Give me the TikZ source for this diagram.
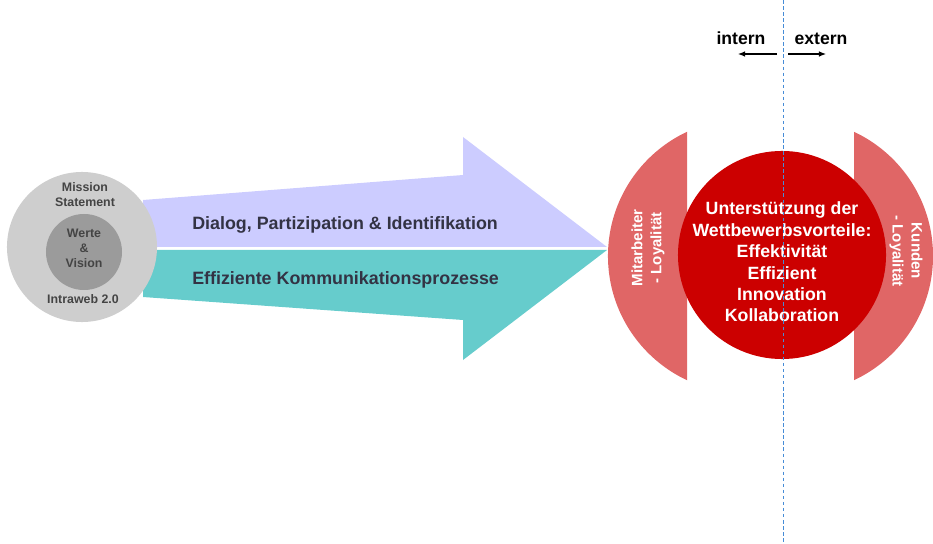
\documentclass[tikz,border=0pt]{standalone}
\usepackage{fontspec}
\setmainfont{Liberation Sans}
\usepackage{xcolor}
\usetikzlibrary{arrows.meta}

\definecolor{lavender}{RGB}{204,204,255}
\definecolor{arrowteal}{RGB}{102,204,204}
\definecolor{outergray}{RGB}{206,206,206}
\definecolor{innergray}{RGB}{155,155,155}
\definecolor{crescentred}{RGB}{224,102,102}
\definecolor{corered}{RGB}{204,0,0}
\definecolor{dashblue}{RGB}{70,140,215}
\definecolor{textdark}{RGB}{51,51,68}
\definecolor{graytext}{RGB}{68,68,68}

\begin{document}
\begin{tikzpicture}[x=0.025cm, y=-0.025cm,
  graylabel/.style={font=\fontsize{8.8}{11}\selectfont\bfseries, text=graytext, align=center, inner sep=0},
  arrowlabel/.style={font=\fontsize{12.7}{15}\selectfont\bfseries, text=textdark, anchor=base west, inner sep=0},
  whitelabel/.style={font=\fontsize{12.6}{15.2}\selectfont\bfseries, text=white, align=center, inner sep=0},
  sidelabel/.style={font=\fontsize{10.7}{13.5}\selectfont\bfseries, text=white, align=center, inner sep=0},
  sidearrow/.style={-{Latex[length=5pt,width=4pt]}, line width=0.8pt}]
  \useasboundingbox (0,0) rectangle (933,544);

  % big arrow
  \fill[lavender] (143,200) -- (463,175) -- (463,137) -- (607,247) -- (143,247) -- cycle;
  \fill[arrowteal] (143,250) -- (607,250) -- (463,360) -- (463,320) -- (143,297) -- cycle;
  \node[arrowlabel] (dialog) at (192,230) {Dialog, Partizipation \& Identifikation};
  \node[arrowlabel] (effizienz) at (192,284) {Effiziente Kommunikationsprozesse};

  % left circles
  \node[circle, fill=outergray, minimum size=3.75cm, inner sep=0] (mission) at (82,247) {};
  \node[circle, fill=innergray, minimum size=1.9cm, inner sep=0] (werte) at (84,252) {};
  \node[graylabel, anchor=base] (missiontxt) at (85,207) {Mission\\Statement};
  \node[graylabel, anchor=base] (wertetxt) at (84,268) {Werte\\\&\\Vision};
  \node[graylabel, anchor=base] (intraweb) at (83,303) {Intraweb 2.0};

  % crescents
  \begin{scope}
    \clip (600,120) rectangle (687,400);
    \fill[crescentred] (745,256) circle[radius=3.425cm];
  \end{scope}
  \begin{scope}
    \clip (854,120) rectangle (933,400);
    \fill[crescentred] (796,256) circle[radius=3.425cm];
  \end{scope}
  \node[sidelabel, rotate=90] (mitarbeiter) at (648,248) {Mitarbeiter\\- Loyalität};
  \node[sidelabel, rotate=-90] (kunden) at (906,251) {Kunden\\- Loyalität};

  % red circle
  \node[circle, fill=corered, minimum size=5.2cm, inner sep=0] (vorteile) at (782,255) {};
  \node[whitelabel] (vorteiletxt) at (782,262) {Unterstützung der\\Wettbewerbsvorteile:\\Effektivität\\Effizient\\Innovation\\Kollaboration};

  % intern / extern
  \coordinate (linetop) at (783,0);
  \coordinate (linebottom) at (783,544);
  \draw[dashblue, line width=0.7pt, dash pattern=on 2.5pt off 1.8pt] (linetop) -- (linebottom);
  \node[font=\fontsize{12.5}{15}\selectfont\bfseries, anchor=base, inner sep=0] (intern) at (741,45) {intern};
  \node[font=\fontsize{12.5}{15}\selectfont\bfseries, anchor=base, inner sep=0] (extern) at (821,45) {extern};
  \coordinate (internstart) at (777,54);
  \coordinate (internend) at (738,54);
  \coordinate (externstart) at (788,54);
  \coordinate (externend) at (826,54);
  \draw[sidearrow] (internstart) -- (internend);
  \draw[sidearrow] (externstart) -- (externend);
\end{tikzpicture}
\end{document}
